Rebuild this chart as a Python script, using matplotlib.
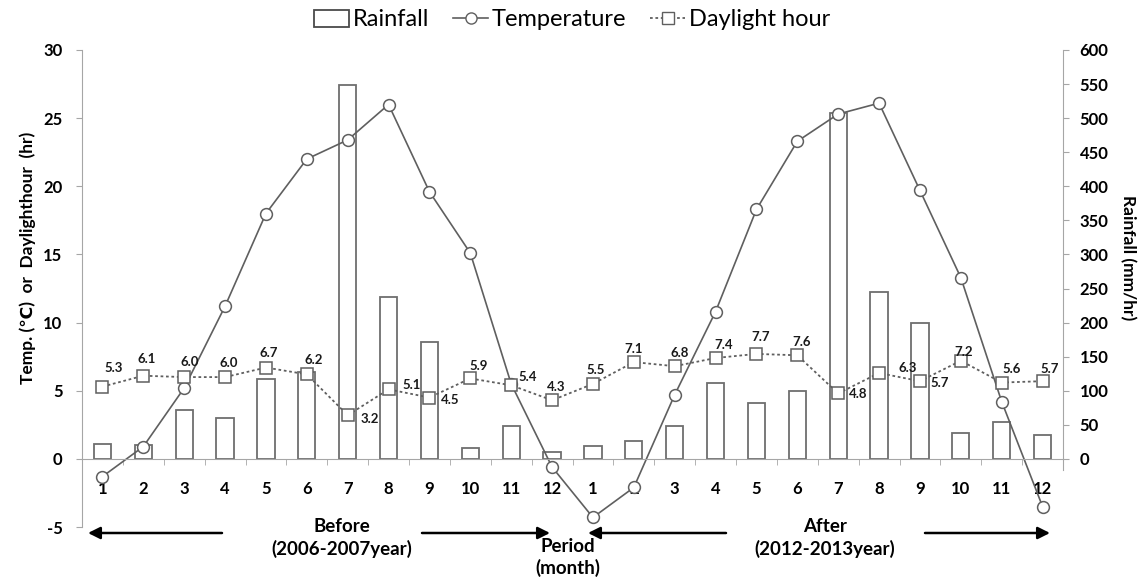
import matplotlib
matplotlib.use("Agg")
import matplotlib.pyplot as plt
from matplotlib.patches import Patch, FancyArrowPatch
from matplotlib.lines import Line2D

plt.rcParams['font.family'] = ['Lato', 'DejaVu Sans']

# Monthly climate summary, before (2006-2007) and after (2012-2013)
months = [str(m) for m in range(1, 13)]
month_labels = months + months

rain_before = [22, 20, 72, 60, 117, 127, 549, 238, 172, 16, 48, 10]
rain_after = [19, 26, 48, 111, 82, 100, 508, 245, 199, 38, 54, 35]

temp_before = [-1.3, 0.9, 5.2, 11.2, 18.0, 22.0, 23.4, 26.0, 19.6, 15.1, 5.5, -0.6]
temp_after = [-4.3, -2.1, 4.7, 10.8, 18.3, 23.3, 25.3, 26.1, 19.7, 13.3, 4.2, -3.5]

sun_before = [5.3, 6.1, 6.0, 6.0, 6.7, 6.2, 3.2, 5.1, 4.5, 5.9, 5.4, 4.3]
sun_after = [5.5, 7.1, 6.8, 7.4, 7.7, 7.6, 4.8, 6.3, 5.7, 7.2, 5.6, 5.7]

# value-label offsets in pixels (dx, dy), one per daylight point
label_offsets = [(11, 19), (3, 17), (6, 15), (4, 14), (3, 15), (7, 14),
                 (22, -4), (23, 4), (21, -2), (8, 12), (17, 8), (4, 13),
                 (3, 14), (0, 13), (5, 13), (8, 13), (4, 17), (4, 13),
                 (20, -1), (29, 5), (20, -2), (3, 9), (10, 14), (7, 12)]

rain = rain_before + rain_after
temp = temp_before + temp_after
sun = sun_before + sun_after
x = list(range(len(month_labels)))

W, H = 1142, 581
grey = '#a6a6a6'
line_col = '#5f5f5f'

fig = plt.figure(figsize=(W / 100, H / 100), dpi=100)
ax = fig.add_axes([82 / W, 1 - 527 / H, (1063 - 82) / W, (527 - 50) / H])
ax2 = ax.twinx()
ax.set_zorder(2)
ax2.set_zorder(1)
ax.patch.set_visible(False)

# rainfall bars on the secondary axis
ax2.bar(x, rain, width=0.42, facecolor='white', edgecolor='#6e6e6e', linewidth=1.3)
ax2.set_ylim(-100, 600)
ax2.set_yticks(range(0, 601, 50))
for s in ('left', 'top', 'bottom'):
    ax2.spines[s].set_visible(False)
ax2.spines['right'].set_color(grey)
ax2.spines['right'].set_bounds(-16, 600)
ax2.tick_params(axis='y', direction='out', length=4, color=grey, pad=8,
                labelsize=12)
for t in ax2.get_yticklabels():
    t.set_fontweight('bold')

# temperature and daylight series
ax.plot(x, temp, color=line_col, linewidth=1.2, marker='o', markersize=8.5,
        markerfacecolor='white', markeredgecolor=line_col, markeredgewidth=1.1)
ax.plot(x, sun, color=line_col, linewidth=1.3, linestyle=(0, (1.5, 1.5)),
        marker='s', markersize=8.5, markerfacecolor='white',
        markeredgecolor=line_col, markeredgewidth=1.1)
for xi, v, (dx, dy) in zip(x, sun, label_offsets):
    ax.annotate(f'{v:.1f}', (xi, v), xytext=(dx, dy), textcoords='offset pixels',
                ha='center', va='center', fontsize=9.5, fontweight='bold',
                color='#1a1a1a')

ax.set_xlim(-0.5, len(x) - 0.5)
ax.set_ylim(-5, 30)
ax.set_yticks(range(-5, 31, 5))
ax.set_yticklabels([str(v) for v in range(-5, 31, 5)], fontweight='bold')
ax.tick_params(axis='y', direction='out', length=4, color=grey, pad=10,
               labelsize=12)
ax.spines['top'].set_visible(False)
ax.spines['right'].set_visible(False)
ax.spines['left'].set_color(grey)
ax.spines['bottom'].set_color(grey)
ax.spines['bottom'].set_position(('data', 0))

ax.set_xticks(x)
ax.set_xticklabels(month_labels, fontweight='bold')
ax.tick_params(axis='x', which='major', length=0, pad=16, labelsize=12)
ax.set_xticks([i + 0.5 for i in x[:-1]], minor=True)
ax.tick_params(axis='x', which='minor', direction='out', length=4, color=grey)

# axis titles
fig.text(28 / W, 1 - 258 / H, 'Temp. (\u2103)  or  Daylighthour  (hr)',
         rotation=90, ha='center', va='center', fontsize=12.5, fontweight='bold')
fig.text(1128 / W, 1 - 258 / H, 'Rainfall (mm/hr)', rotation=270,
         ha='center', va='center', fontsize=12.5, fontweight='bold')

# legend
handles = [
    Patch(facecolor='white', edgecolor='#4a4a4a', linewidth=1.3),
    Line2D([], [], color=line_col, linewidth=1.2, marker='o', markersize=8,
           markerfacecolor='white', markeredgecolor=line_col),
    Line2D([], [], color=line_col, linewidth=1.3, linestyle=(0, (1.5, 1.5)),
           marker='s', markersize=8.5, markerfacecolor='white',
           markeredgecolor=line_col),
]
fig.legend(handles, ['Rainfall', 'Temperature', 'Daylight hour'],
           loc='center', bbox_to_anchor=(572 / W, 1 - 20 / H), ncol=3,
           frameon=False, fontsize=17, handlelength=1.5, handletextpad=0.15,
           columnspacing=1.0)

# period annotations below the axis
def fig_px(px, py):
    return (px / W, 1 - py / H)

arrow_kw = dict(arrowstyle='-|>,head_length=0.6,head_width=0.3', color='black',
                linewidth=1.8, shrinkA=0, shrinkB=0)
for x0, x1 in [(222, 88), (422, 550), (726, 588), (925, 1050)]:
    fig.add_artist(FancyArrowPatch(fig_px(x0, 533), fig_px(x1, 533),
                                   transform=fig.transFigure,
                                   mutation_scale=12, **arrow_kw))

txt_kw = dict(ha='center', va='center', fontsize=13.5, fontweight='bold')
fig.text(*fig_px(342, 527), 'Before', **txt_kw)
fig.text(*fig_px(342, 549), '(2006-2007year)', **txt_kw)
fig.text(*fig_px(568, 547), 'Period', **txt_kw)
fig.text(*fig_px(568, 568), '(month)', **txt_kw)
fig.text(*fig_px(825, 527), 'After', **txt_kw)
fig.text(*fig_px(825, 549), '(2012-2013year)', **txt_kw)

fig.savefig('out.png', dpi=100)
